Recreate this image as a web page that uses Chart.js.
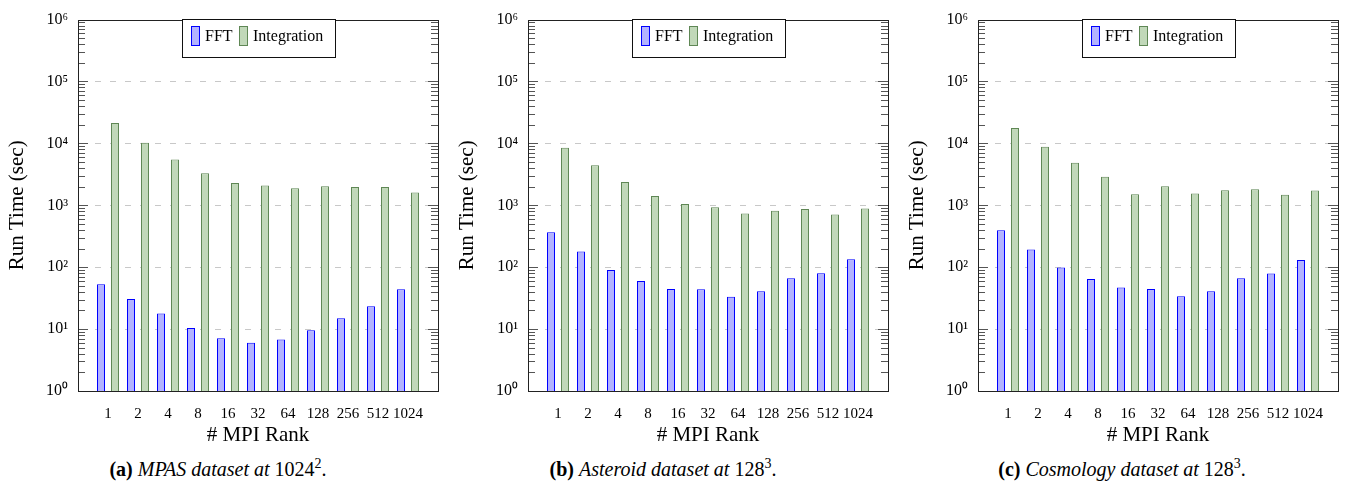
<!DOCTYPE html>
<html><head><meta charset="utf-8">
<script src="https://cdn.jsdelivr.net/npm/chart.js@4.4.0/dist/chart.umd.min.js"></script>
<style>
html,body{margin:0;padding:0;background:#fff;width:1348px;height:486px;overflow:hidden;font-family:"Liberation Serif",serif;}
.panel{position:absolute;top:0;width:450px;height:452px;}
.cap{position:absolute;top:458px;width:400px;text-align:center;font-size:20px;line-height:23px;color:#000;}
.sup{font-size:14px;position:relative;top:-8px;}
</style></head><body>
<div class="panel" style="left:0px"><canvas id="c0" width="450" height="452"></canvas></div>
<div class="panel" style="left:450px"><canvas id="c1" width="450" height="452"></canvas></div>
<div class="panel" style="left:900px"><canvas id="c2" width="450" height="452"></canvas></div>
<div class="cap" style="left:18px"><b>(a)</b> <i>MPAS dataset at</i> 1024<span class="sup">2</span>.</div>
<div class="cap" style="left:463px"><b>(b)</b> <i>Asteroid dataset at</i> 128<span class="sup">3</span>.</div>
<div class="cap" style="left:922px"><b>(c)</b> <i>Cosmology dataset at</i> 128<span class="sup">3</span>.</div>
<script>
const categories = ['1','2','4','8','16','32','64','128','256','512','1024'];
const yTickLabels = ['10\u2070','10\u00b9','10\u00b2','10\u00b3','10\u2074','10\u2075','10\u2076'];
const seriesNames = ['FFT','Integration'];
const xTitle = '# MPI Rank';
const yTitle = 'Run Time (sec)';

const mpasFFT = [53, 30.5, 17.8, 10.4, 7.1, 6.0, 6.8, 9.6, 15, 23.3, 44];
const mpasIntegration = [21300, 10250, 5500, 3300, 2290, 2080, 1880, 2030, 1980, 1980, 1610];
const asteroidFFT = [366, 180, 90, 60, 44.6, 44.1, 33.2, 40.9, 66, 80, 134];
const asteroidIntegration = [8530, 4420, 2380, 1410, 1050, 930, 740, 813, 875, 711, 886];
const cosmologyFFT = [394, 194, 99, 64.4, 46.8, 44.6, 34, 40.9, 66, 79, 131];
const cosmologyIntegration = [17700, 8850, 4870, 2890, 1510, 2030, 1550, 1750, 1815, 1480, 1730];

const FONT = '"Liberation Serif", "Times New Roman", serif';
Chart.defaults.font.family = FONT;
const pad = arr => [null, ...arr, null];
const paddedLabels = ['', ...categories, ''];

const framePlugin = {
  id: 'frame',
  afterDatasetsDraw(chart) {
    const {ctx, chartArea: a, scales: {y}} = chart;
    ctx.save();
    ctx.strokeStyle = '#555'; ctx.lineWidth = 1;
    ctx.beginPath();
    for (let d = 0; d < 6; d++) {
      for (let k = 1; k < 10; k++) {
        if (k === 1 && d === 0) continue;
        const py = Math.round(y.getPixelForValue(k * Math.pow(10, d))) + 0.5;
        const len = k === 1 ? 10 : 7;
        ctx.moveTo(a.left, py); ctx.lineTo(a.left + len, py);
        ctx.moveTo(a.right, py); ctx.lineTo(a.right - len, py);
      }
    }
    ctx.stroke();
    ctx.strokeStyle = '#222';
    ctx.strokeRect(Math.round(a.left) + 0.5, Math.round(a.top) + 0.5, Math.round(a.right - a.left), Math.round(a.bottom - a.top));
    ctx.restore();
  },
  afterDraw(chart) {
    const {ctx, chartArea: a} = chart;
    const ds = chart.data.datasets;
    ctx.save();
    ctx.font = '16px ' + FONT;
    const sw = 8, sh = 19, gapST = 6, gapItems = 6, padL = 8, padR = 13;
    const widths = ds.map(d => sw + gapST + ctx.measureText(d.label).width);
    const inner = widths.reduce((s, w) => s + w, 0) + gapItems * (ds.length - 1);
    const fw = Math.round(inner + padL + padR);
    const cx = (a.left + a.right) / 2;
    const fl = Math.round(cx - fw / 2) + 0.5;
    const ft = Math.round(a.top - 1) + 0.5;
    const fh = 38;
    ctx.fillStyle = '#fff';
    ctx.fillRect(fl, ft, fw, fh);
    ctx.strokeStyle = '#111'; ctx.lineWidth = 1;
    ctx.strokeRect(fl, ft, fw, fh);
    let x = Math.round(fl + padL);
    const sy = ft + 7;
    ds.forEach((d, i) => {
      ctx.fillStyle = d.backgroundColor;
      ctx.fillRect(x + 0.5, sy, sw, sh);
      ctx.strokeStyle = d.borderColor;
      ctx.strokeRect(x + 0.5, sy, sw, sh);
      ctx.fillStyle = '#000';
      ctx.textBaseline = 'middle';
      ctx.textAlign = 'left';
      ctx.fillText(d.label, x + sw + gapST, sy + sh / 2 + 1);
      x = Math.round(x + widths[i] + gapItems);
    });
    ctx.restore();
  }
};

function makeChart(id, fft, integ) {
  new Chart(document.getElementById(id), {
    type: 'bar',
    data: {
      labels: paddedLabels,
      datasets: [
        {label: seriesNames[0], data: pad(fft), backgroundColor: 'rgb(179,179,255)', borderColor: '#0000ff', borderWidth: 1,
         borderSkipped: 'start', inflateAmount: 0, categoryPercentage: 28 / 30, barPercentage: 8 / 14},
        {label: seriesNames[1], data: pad(integ), backgroundColor: 'rgb(193,216,185)', borderColor: 'rgb(95,135,85)', borderWidth: 1,
         borderSkipped: 'start', inflateAmount: 0, categoryPercentage: 28 / 30, barPercentage: 8 / 14}
      ]
    },
    options: {
      responsive: false, animation: false, devicePixelRatio: 1,
      layout: {padding: {top: 15, right: 12, bottom: 0, left: 0}},
      plugins: {
        tooltip: {enabled: false},
        legend: {display: false}
      },
      scales: {
        x: {
          type: 'category', offset: false,
          grid: {display: false}, border: {display: false},
          ticks: {color: '#000', font: {family: FONT, size: 15}, padding: 6, maxRotation: 0, autoSkip: false},
          title: {display: true, text: xTitle, color: '#000', font: {family: FONT, size: 21, lineHeight: 1.2}, padding: {top: 0, bottom: 4}},
          afterFit(s) { s.height = 61; }
        },
        y: {
          type: 'logarithmic', min: 1, max: 1e6,
          afterBuildTicks(s) { s.ticks = [0,1,2,3,4,5,6].map(e => ({value: Math.pow(10, e)})); },
          ticks: {color: '#000', font: {family: FONT, size: 16}, padding: 10, autoSkip: false,
                  callback: v => yTickLabels[Math.round(Math.log10(v))]},
          grid: {drawTicks: false, lineWidth: 1,
                 color: c => (c.tick && (c.tick.value === 1 || c.tick.value === 1e6)) ? 'rgba(0,0,0,0)' : 'rgb(200,200,200)'},
          border: {display: false, dash: [6, 9], dashOffset: 13},
          title: {display: true, text: yTitle, color: '#000', font: {family: FONT, size: 21, lineHeight: 1.2}, padding: {top: 5, bottom: 0}},
          afterFit(s) { s.width = 78; }
        }
      }
    },
    plugins: [framePlugin]
  });
}

makeChart('c0', mpasFFT, mpasIntegration);
makeChart('c1', asteroidFFT, asteroidIntegration);
makeChart('c2', cosmologyFFT, cosmologyIntegration);
</script>
</body></html>
